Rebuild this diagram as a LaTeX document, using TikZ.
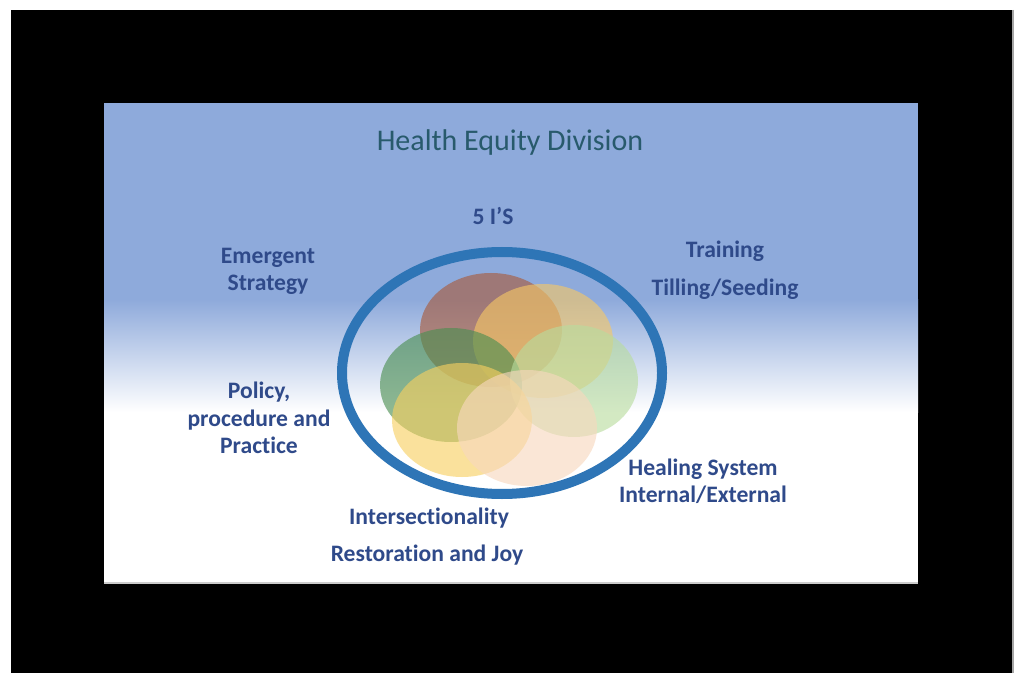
\documentclass[tikz,border=0pt]{standalone}
\usepackage{fontspec}
\setmainfont{Carlito}[Ligatures=NoCommon]
\definecolor{slideblue}{HTML}{8EAADB}
\definecolor{ringblue}{HTML}{2E75B6}
\definecolor{labelblue}{HTML}{2F4A8A}
\definecolor{titleteal}{HTML}{285A6C}
\definecolor{cRed}{HTML}{A85A3A}
\definecolor{cOrange}{HTML}{F6C866}
\definecolor{cLgreen}{HTML}{B8DC9E}
\definecolor{cDgreen}{HTML}{4A8E50}
\definecolor{cYellow}{HTML}{F8D060}
\definecolor{cPeach}{HTML}{F8D8BE}
\begin{document}
\begin{tikzpicture}[x=0.5pt,y=-0.5pt,
  lbl/.style={font=\fontsize{11.8pt}{13.6pt}\selectfont\bfseries, text=labelblue, align=center, inner sep=0pt},
  blob/.style={opacity=0.62}]
\useasboundingbox (0,0) rectangle (1016,673);
\fill[white] (0,0) rectangle (1016,673);
\fill[black] (11,10) rectangle (1012,673);
\draw[gray!70, line width=1pt] (1012.5,10) -- (1012.5,673);
% slide
\fill[slideblue] (104,103) rectangle (918,300);
\shade[top color=slideblue, bottom color=white] (104,299.5) rectangle (918,412);
\fill[white] (104,411.5) rectangle (918,583);
\draw[gray!40, line width=1pt] (104,583) -- (918,583);
% blobs
\fill[cRed, blob] (491,330) ellipse [x radius=35.5pt, y radius=28.5pt];
\fill[cOrange, blob] (543,341) ellipse [x radius=35pt, y radius=28.5pt];
\fill[cDgreen, blob] (451,385) ellipse [x radius=35.5pt, y radius=28.5pt];
\fill[cLgreen, blob] (574,381) ellipse [x radius=32pt, y radius=28pt];
\fill[cYellow, blob] (462,420) ellipse [x radius=35pt, y radius=28.5pt];
\fill[cPeach, blob] (527,428) ellipse [x radius=35pt, y radius=29pt];
% ring
\draw[ringblue, line width=5pt] (502,373) ellipse [x radius=80pt, y radius=60.5pt];
% texts
\node (title) at (510,143) [font=\fontsize{15pt}{17pt}\selectfont, text=titleteal, inner sep=0pt] {Health Equity Division};
\node (fiveis) at (493,216) [lbl] {5 I’S};
\node (emergent) at (268,271) [lbl] {Emergent\\Strategy};
\node (training) at (725,251) [lbl] {Training};
\node (tilling) at (725,289) [lbl] {Tilling/Seeding};
\node (policy) at (259,418) [lbl] {Policy,\\procedure and\\Practice};
\node (healing) at (703,481) [lbl] {Healing System\\Internal/External};
\node (inter) at (429,518) [lbl] {Intersectionality};
\node (restor) at (427,555) [lbl] {Restoration and Joy};
\end{tikzpicture}
\end{document}
